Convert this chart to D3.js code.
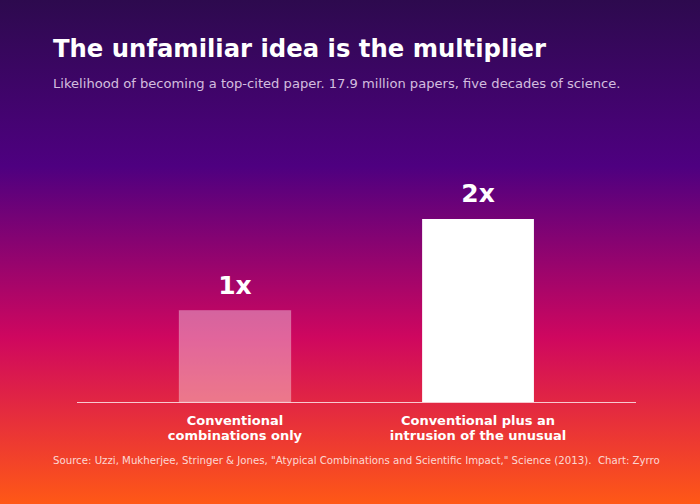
<!DOCTYPE html>
<html>
<head>
<meta charset="utf-8">
<script src="https://cdn.jsdelivr.net/npm/d3@7"></script>
<style>
  html, body { margin: 0; padding: 0; background: #2e0a50; }
  svg { display: block; font-family: "DejaVu Sans", sans-serif; }
</style>
</head>
<body>
<div id="vis"></div>
<script>
var categories = [
  ["Conventional", "combinations only"],
  ["Conventional plus an", "intrusion of the unusual"]
];
var values = [1, 2];
var valueLabels = ["1x", "2x"];

var W = 700, H = 504;
var margin = { top: 219, right: 64, bottom: 102, left: 77 };
var width = W - margin.left - margin.right;
var height = H - margin.top - margin.bottom;

var svg = d3.select("#vis")
  .append("svg")
    .attr("width", W)
    .attr("height", H);

var defs = svg.append("defs");
var grad = defs.append("linearGradient")
  .attr("id", "bg")
  .attr("x1", 0).attr("y1", 0)
  .attr("x2", 0).attr("y2", 1);
[[0, "#2d0a4e"], [0.33, "#4e0080"], [0.67, "#cf075f"], [1, "#ff5816"]].forEach(function(s) {
  grad.append("stop").attr("offset", s[0]).attr("stop-color", s[1]);
});

svg.append("rect")
  .attr("width", W)
  .attr("height", H)
  .attr("fill", "url(#bg)");

// titles
svg.append("text")
  .attr("x", 53)
  .attr("y", 57)
  .attr("fill", "#fff")
  .style("font-size", "24.3px")
  .style("font-weight", "bold")
  .text("The unfamiliar idea is the multiplier");

svg.append("text")
  .attr("x", 53)
  .attr("y", 88)
  .attr("fill", "#f0e0f6")
  .attr("fill-opacity", 0.85)
  .style("font-size", "13.1px")
  .text("Likelihood of becoming a top-cited paper. 17.9 million papers, five decades of science.");

var g = svg.append("g")
  .attr("transform", "translate(" + margin.left + "," + margin.top + ")");

var x = d3.scaleBand()
  .domain(d3.range(values.length))
  .range([0, width])
  .paddingInner(0.54)
  .paddingOuter(0.42);

var y = d3.scaleLinear()
  .domain([0, 2])
  .range([height, 0]);

g.selectAll(".bar")
  .data(values)
  .enter()
  .append("rect")
    .attr("class", "bar")
    .attr("x", function(d, i) { return x(i); })
    .attr("y", function(d) { return y(d); })
    .attr("width", x.bandwidth())
    .attr("height", function(d) { return height - y(d); })
    .attr("fill", "#fff")
    .attr("fill-opacity", function(d, i) { return i == 0 ? 0.38 : 1; })
    .attr("stroke", "#fff")
    .attr("stroke-opacity", function(d, i) { return i == 0 ? 0.15 : 0; })
    .attr("stroke-width", 1);

g.selectAll(".vlabel")
  .data(values)
  .enter()
  .append("text")
    .attr("class", "vlabel")
    .attr("x", function(d, i) { return x(i) + x.bandwidth() / 2; })
    .attr("y", function(d) { return y(d) - 17; })
    .attr("text-anchor", "middle")
    .attr("fill", "#fff")
    .style("font-size", "25px")
    .style("font-weight", "bold")
    .text(function(d, i) { return valueLabels[i]; });

// baseline
g.append("line")
  .attr("x1", 0)
  .attr("x2", width)
  .attr("y1", height + 0.5)
  .attr("y2", height + 0.5)
  .attr("stroke", "#fff")
  .attr("stroke-opacity", 0.75)
  .attr("stroke-width", 1);

var xl = g.selectAll(".xlabel")
  .data(categories)
  .enter()
  .append("text")
    .attr("class", "xlabel")
    .attr("text-anchor", "middle")
    .attr("fill", "#fff")
    .style("font-size", "13px")
    .style("font-weight", "bold");

xl.selectAll("tspan")
  .data(function(d, i) { return d.map(function(t) { return { t: t, i: i }; }); })
  .enter()
  .append("tspan")
    .attr("x", function(d) { return x(d.i) + x.bandwidth() / 2; })
    .attr("y", function(d, j) { return height + 23 + j * 15; })
    .text(function(d) { return d.t; });

svg.append("text")
  .attr("x", 53)
  .attr("y", 464)
  .attr("fill", "#fff")
  .attr("fill-opacity", 0.8)
  .style("font-size", "10.2px")
  .style("white-space", "pre")
  .text("Source: Uzzi, Mukherjee, Stringer & Jones, \"Atypical Combinations and Scientific Impact,\" Science (2013).  Chart: Zyrro");
</script>
</body>
</html>
